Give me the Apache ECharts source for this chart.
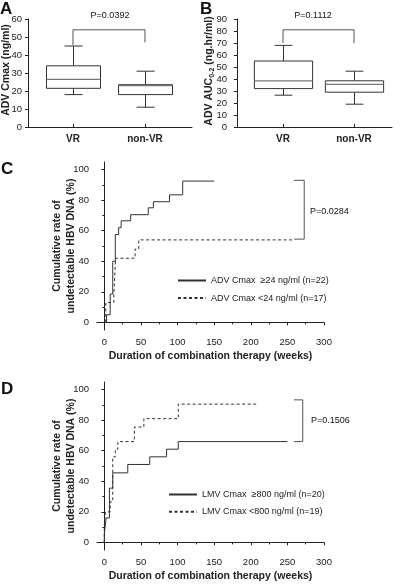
<!DOCTYPE html>
<html><head><meta charset="utf-8">
<script src="https://cdn.jsdelivr.net/npm/echarts@6/dist/echarts.min.js"></script>
<style>html,body{margin:0;padding:0;background:#fff}#c{width:400px;height:584px}</style>
</head><body><div id="c"></div>
<script>
// ---------- data ----------
const boxCategories = ['VR', 'non-VR'];
// [min, Q1, median, Q3, max]
const cmaxVR = [18, 21.5, 26.5, 34, 45];
const cmaxNonVR = [11, 18, 23, 23.5, 31];
const aucVR = [26.5, 32, 38.5, 55, 68];
const aucNonVR = [19, 29, 35.5, 38.5, 46.5];
const cmaxBracket = [[0, 45.5], [0, 54], [1, 54], [1, 47]];
const aucBracket = [[0, 70], [0, 81], [1, 81], [1, 70]];
const cmaxTicks = [0, 60, 10];
const aucTicks = [0, 90, 10];

// Kaplan-Meier style step curves: [weeks, cumulative %]
const advHigh = [[3,0],[3,5],[8,18.5],[11.5,40],[15,57.5],[19.5,62],[23,66.5],[36,70.5],[60,75],[67,79],[89,83.5],[107,92.5],[150,92.5]];
const advLow = [[2,0],[2,13],[13,18.5],[15.5,42],[42,48],[47,54],[257,54]];
const lmvHigh = [[0,0],[0,5.5],[2.5,16],[7,35.5],[11.5,45.5],[32,51],[62,56],[85,61],[101,66],[250,66]];
const lmvLow = [[0,0],[0,11.5],[1.5,20],[8,26.5],[11.5,56],[15,61],[18.5,66],[41,75.5],[54,81],[101,90.5],[210,90.5]];
const advBracket = [[259,93],[273,93],[273,54.5],[259,54.5]];
const lmvBracket = [[259,93.3],[271,93.3],[271,66],[259,66]];
const weekLabels = [0, 50, 100, 150, 200, 250, 300];
const weekMinor = [25, 75, 125, 175, 225, 275];
const pctLabels = [0, 20, 40, 60, 80, 100];
const pctMinor = [10, 30, 50, 70, 90];
const names = {
  advHigh: 'ADV Cmax  \u226524 ng/ml (n=22)',
  advLow: 'ADV Cmax <24 ng/ml (n=17)',
  lmvHigh: 'LMV Cmax  \u2265800 ng/ml (n=20)',
  lmvLow: 'LMV Cmax <800 ng/ml (n=19)'
};
const pValues = { A: 'P=0.0392', B: 'P=0.1112', C: 'P=0.0284', D: 'P=0.1506' };

// ---------- helpers ----------
const FONT = '"Liberation Sans", Arial, sans-serif';
const INK = '#222';
function boxRender(ratio) {
  return function (params, api) {
    const x = api.value(0);
    const lo = api.coord([x, api.value(1)]);
    const q1 = api.coord([x, api.value(2)]);
    const md = api.coord([x, api.value(3)]);
    const q3 = api.coord([x, api.value(4)]);
    const hi = api.coord([x, api.value(5)]);
    const band = api.size([1, 0])[0];
    const bw = band * ratio, cw = band * 0.25, cx = Math.round(lo[0]) + 0.5;
    const ls = { stroke: '#333', lineWidth: 1 };
    return { type: 'group', children: [
      { type: 'line', shape: { x1: cx, y1: hi[1], x2: cx, y2: q3[1] }, style: ls },
      { type: 'line', shape: { x1: cx, y1: q1[1], x2: cx, y2: lo[1] }, style: ls },
      { type: 'line', shape: { x1: cx - cw / 2, y1: hi[1], x2: cx + cw / 2, y2: hi[1] }, style: ls },
      { type: 'line', shape: { x1: cx - cw / 2, y1: lo[1], x2: cx + cw / 2, y2: lo[1] }, style: ls },
      { type: 'rect', shape: { x: cx - bw / 2, y: q3[1], width: bw, height: q1[1] - q3[1] }, style: { fill: '#fff', stroke: '#333', lineWidth: 1 } },
      { type: 'line', shape: { x1: cx - bw / 2, y1: md[1], x2: cx + bw / 2, y2: md[1] }, style: { stroke: '#777', lineWidth: 1.3 } }
    ]};
  };
}
function frameX(grid) {
  return { gridIndex: grid, type: 'value', min: 0, max: 1, axisLine: { show: true, lineStyle: { color: INK } },
    axisTick: { show: false }, axisLabel: { show: false }, splitLine: { show: false } };
}
function dataX(grid) {
  return { gridIndex: grid, type: 'category', data: boxCategories, boundaryGap: true,
    axisLine: { show: false }, axisTick: { show: true, alignWithLabel: true, inside: true, length: 3, lineStyle: { color: INK } },
    axisLabel: { fontFamily: FONT, fontWeight: 'bold', fontSize: 10, color: INK, margin: 7 }, splitLine: { show: false } };
}
function frameY(grid, t, name, gap, margin, pad) {
  return { gridIndex: grid, type: 'value', min: t[0], max: t[1], interval: t[2],
    axisLine: { show: true, lineStyle: { color: INK } }, axisTick: { show: true, length: 3, lineStyle: { color: INK } },
    axisLabel: { fontFamily: FONT, fontSize: 9.5, color: INK, margin: margin }, splitLine: { show: false },
    name: name, nameLocation: 'middle', nameGap: gap, nameRotate: 90, nameMoveOverlap: false,
    nameTextStyle: { fontFamily: FONT, fontWeight: 'bold', fontSize: 10.5, color: INK, padding: pad,
      rich: { a: { fontFamily: FONT, fontWeight: 'bold', fontSize: 10.5, color: INK, lineHeight: 14 },
              s: { fontFamily: FONT, fontWeight: 'bold', fontSize: 7, color: INK, lineHeight: 8, verticalAlign: 'bottom' } } } };
}
function hiddenY(grid, t) {
  return { gridIndex: grid, type: 'value', min: t[0], max: t[1], show: false };
}
function kmX(grid, minor) {
  if (minor) return { gridIndex: grid, type: 'value', min: -10, max: 300, position: 'bottom',
    axisLine: { show: false }, axisTick: { show: true, length: 2, customValues: weekMinor, lineStyle: { color: INK } },
    axisLabel: { show: false }, splitLine: { show: false } };
  return { gridIndex: grid, type: 'value', min: -10, max: 300, position: 'bottom',
    axisLine: { show: true, lineStyle: { color: INK } },
    axisTick: { show: true, length: 3, customValues: weekLabels, lineStyle: { color: INK } },
    axisLabel: { customValues: weekLabels, fontFamily: FONT, fontSize: 9.5, color: INK, margin: 7 },
    splitLine: { show: false },
    name: 'Duration of combination therapy (weeks)', nameLocation: 'middle', nameGap: 21, nameMoveOverlap: false,
    nameTextStyle: { fontFamily: FONT, fontWeight: 'bold', fontSize: 10.5, color: INK } };
}
function kmY(grid, minor) {
  if (minor) return { gridIndex: grid, type: 'value', min: -5, max: 105, position: 'left',
    axisLine: { show: false }, axisTick: { show: true, length: 2, customValues: pctMinor, lineStyle: { color: INK } },
    axisLabel: { show: false }, splitLine: { show: false } };
  return { gridIndex: grid, type: 'value', min: -5, max: 105, position: 'left',
    axisLine: { show: true, lineStyle: { color: INK } },
    axisTick: { show: true, length: 3, customValues: pctLabels, lineStyle: { color: INK } },
    axisLabel: { customValues: pctLabels, fontFamily: FONT, fontSize: 9.5, color: INK, margin: 8 },
    splitLine: { show: false },
    name: 'Cumulative rate of\nundetectable HBV DNA (%)', nameLocation: 'middle', nameGap: 19, nameRotate: 90, nameMoveOverlap: false,
    nameTextStyle: { fontFamily: FONT, fontWeight: 'bold', fontSize: 10.5, color: INK, lineHeight: 14 } };
}
function stepLine(name, data, xi, yi, dashed) {
  return { name: name, type: 'line', xAxisIndex: xi, yAxisIndex: yi, data: data, step: 'end',
    symbol: 'none', silent: true, animation: false,
    lineStyle: { color: '#333', width: 1, type: dashed ? [3, 2.5] : 'solid' },
    itemStyle: { color: '#333' } };
}
function bracket(data, xi, yi) {
  return { type: 'line', xAxisIndex: xi, yAxisIndex: yi, data: data, symbol: 'none', silent: true, animation: false,
    lineStyle: { color: '#555', width: 1 } };
}
function legend(left, top, gap, items) {
  return { left: left, top: top, orient: 'vertical', itemWidth: 28, itemHeight: 10, itemGap: gap, padding: 0,
    data: items, itemStyle: { opacity: 0 },
    textStyle: { fontFamily: FONT, fontSize: 9, color: INK } };
}
function txt(text, x, y, size, bold, align, va) {
  return { type: 'text', x: x, y: y, silent: true,
    style: { text: text, font: (bold ? 'bold ' : '') + size + 'px ' + FONT, fill: '#111', align: align, verticalAlign: va } };
}

const boxData = (arrs) => arrs.map((a, i) => [i].concat(a));

const option = {
  animation: false,
  backgroundColor: '#fff',
  grid: [
    { left: 28, top: 19, width: 164, height: 108 },
    { left: 37, top: 19, width: 144, height: 108 },
    { left: 237, top: 19, width: 155, height: 108 },
    { left: 247.5, top: 19, width: 142, height: 108 },
    { left: 97, top: 162, width: 227, height: 168 },
    { left: 97, top: 382, width: 227, height: 168 }
  ],
  xAxis: [frameX(0), dataX(1), frameX(2), dataX(3), kmX(4, false), kmX(4, true), kmX(5, false), kmX(5, true)],
  yAxis: [
    frameY(0, cmaxTicks, 'ADV Cmax (ng/ml)', 16, 6, [0, 0, 0, 6]),
    hiddenY(1, cmaxTicks),
    frameY(2, aucTicks, '{a|ADV AUC}{s|0-2}{a| (ng.hr/ml)}', 21, 10, [0, 0, 0, 4]),
    hiddenY(3, aucTicks),
    kmY(4, false), kmY(4, true), kmY(5, false), kmY(5, true)
  ],
  legend: [
    legend(177, 276, 8.6, [names.advHigh, names.advLow]),
    legend(168, 490, 8.3, [names.lmvHigh, names.lmvLow])
  ],
  series: [
    { type: 'custom', xAxisIndex: 1, yAxisIndex: 1, renderItem: boxRender(0.75), data: boxData([cmaxVR, cmaxNonVR]), encode: { x: 0, y: [1, 2, 3, 4, 5] }, silent: true },
    bracket(cmaxBracket, 1, 1),
    { type: 'custom', xAxisIndex: 3, yAxisIndex: 3, renderItem: boxRender(0.82), data: boxData([aucVR, aucNonVR]), encode: { x: 0, y: [1, 2, 3, 4, 5] }, silent: true },
    bracket(aucBracket, 3, 3),
    stepLine(names.advHigh, advHigh, 4, 4, false),
    stepLine(names.advLow, advLow, 4, 4, true),
    bracket(advBracket, 4, 4),
    stepLine(names.lmvHigh, lmvHigh, 6, 6, false),
    stepLine(names.lmvLow, lmvLow, 6, 6, true),
    bracket(lmvBracket, 6, 6)
  ],
  graphic: [
    txt('A', 0, 1, 17, true, 'left', 'top'),
    txt('B', 200, 1, 17, true, 'left', 'top'),
    txt('C', 1, 161, 17, true, 'left', 'top'),
    txt('D', 1, 381, 17, true, 'left', 'top'),
    txt(pValues.A, 110, 16, 9, false, 'center', 'middle'),
    txt(pValues.B, 313, 16, 9, false, 'center', 'middle'),
    txt(pValues.C, 310, 212, 9, false, 'left', 'middle'),
    txt(pValues.D, 311, 421, 9, false, 'left', 'middle')
  ]
};
const chart = echarts.init(document.getElementById('c'), null, { renderer: 'canvas' });
chart.setOption(option);
</script></body></html>
